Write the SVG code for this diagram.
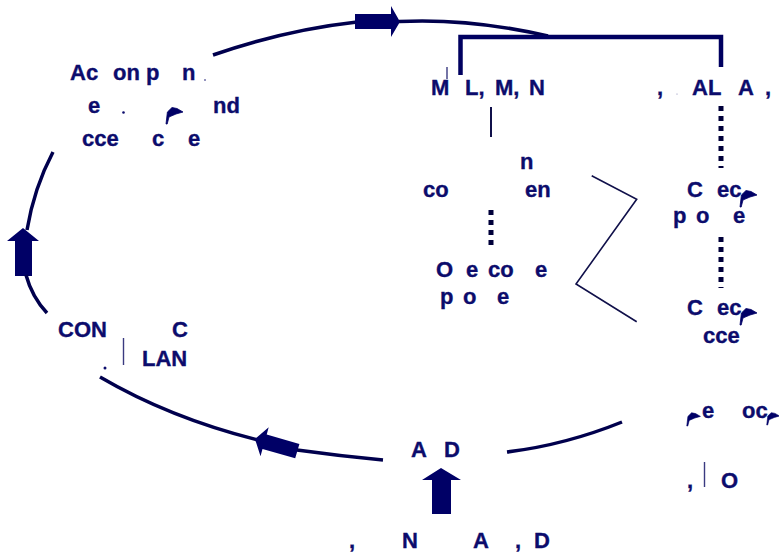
<svg xmlns="http://www.w3.org/2000/svg" width="779" height="558" viewBox="0 0 779 558">
<style>
  text { font-family: "Liberation Sans", Arial, sans-serif; font-weight: bold; font-size: 22px; fill: #0c0c6c; stroke: #0c0c6c; stroke-width: 0.35; }
  .arc { fill: none; stroke: #00004d; stroke-width: 3.5; }
  .blk { fill: #000066; }
  .dot { fill: none; stroke: #00003a; stroke-width: 5; stroke-dasharray: 5 5; }
  .thin { fill: none; stroke: #10104a; stroke-width: 1.6; }
  .tick { stroke: #3a3a80; stroke-width: 1.4; }
  .brk { fill: none; stroke: #000060; stroke-width: 4.5; }
</style>
<defs>
  <path id="flag" d="M1,20 L2.4,8 L7,3.5 L12,4.5 L18,8 L11,10 L4,13 L2.2,20 Z" fill="#000066" stroke="#000066" stroke-width="0.8" stroke-linejoin="round"/>
</defs>

<g id="connectors">
  <path class="arc" d="M213,55 Q285,30 357,22"/>
  <polygon class="blk" points="355,14 391,14 391,6 400,21.7 391,37 391,29 355,29"/>
  <path class="arc" d="M399,21.5 Q470,18 548,36"/>
  <path class="brk" d="M460.5,75 L460.5,37 L721,37 L721,67"/>
  <path class="arc" d="M53,152 Q34,188 27,230"/>
  <polygon class="blk" points="23,228 39,241 32,241 32,276 15,276 15,241 7,241"/>
  <path class="arc" d="M26,275 Q32,297 47,313"/>
  <path class="arc" d="M100,377 Q170,418 258,440"/>
  <polygon class="blk" points="255,439 268.7,427.3 266.7,434.5 299.4,443.9 295.2,458.3 262.5,449 260.5,456.2"/>
  <path class="arc" d="M297,450 Q340,456 383,460"/>
  <path class="arc" d="M507,452 Q565,445 622,422"/>
  <polygon class="blk" points="441,468 461,480 451,480 451,514 432,514 432,480 422,480"/>
  <line class="thin" x1="491" y1="107" x2="491" y2="137" style="stroke-width:2"/>
  <line class="dot" x1="721" y1="106" x2="721" y2="168"/>
  <line class="dot" x1="491" y1="210" x2="491" y2="249"/>
  <line class="dot" x1="721" y1="237" x2="721" y2="288"/>
  <polyline class="thin" points="591.7,175.7 636.7,199.3 576,284 636.7,321.7"/>
</g>

<g id="node-action">
  <text x="70" y="80">Ac</text>
  <text x="113" y="80">on p</text>
  <text x="182" y="80">n</text>
  <circle cx="205" cy="80" r="0.8" fill="#0c0c6c"/>
  <text x="88" y="113">e</text>
  <circle cx="123.5" cy="112.5" r="1.3" fill="#0c0c6c"/>
  <use href="#flag" x="165" y="104"/>
  <text x="213" y="113">nd</text>
  <text x="82" y="146">cce</text>
  <text x="152" y="146">c</text>
  <text x="188" y="146">e</text>
</g>

<g id="node-mlmn">
  <text x="431" y="95">M</text>
  <line class="tick" x1="447" y1="67" x2="447" y2="79"/>
  <text x="465" y="95">L,</text>
  <text x="495" y="95">M,</text>
  <text x="529" y="95">N</text>
</g>

<g id="node-ala">
  <text x="657" y="95">,</text>
  <circle cx="677" cy="94" r="0.6" fill="#8080b0"/>
  <text x="692" y="95">AL</text>
  <text x="738" y="95">A</text>
  <text x="765" y="95">,</text>
</g>

<g id="node-content">
  <text x="520" y="169">n</text>
  <text x="423" y="197">co</text>
  <text x="525" y="197">en</text>
</g>

<g id="node-oecoe">
  <text x="436" y="277">O</text>
  <text x="466" y="277">e</text>
  <text x="488" y="277">co</text>
  <text x="535" y="277">e</text>
  <text x="440" y="304">p</text>
  <text x="463" y="304">o</text>
  <text x="497" y="304">e</text>
</g>

<g id="node-cec1">
  <text x="687" y="197">C</text>
  <text x="717" y="197">ec</text>
  <use href="#flag" x="739" y="187"/>
  <text x="673" y="223">p</text>
  <text x="696" y="223">o</text>
  <text x="733" y="223">e</text>
</g>

<g id="node-cec2">
  <text x="687" y="315">C</text>
  <text x="717" y="315">ec</text>
  <use href="#flag" x="739" y="305"/>
  <text x="703" y="343">cce</text>
</g>

<g id="node-con">
  <text x="58" y="337">CON</text>
  <text x="172" y="337">C</text>
  <line class="tick" x1="123.5" y1="338" x2="123.5" y2="365"/>
  <text x="142" y="366">LAN</text>
  <circle cx="105" cy="368" r="1.5" fill="#0c0c6c"/>
</g>

<g id="node-ad">
  <text x="411" y="457">A</text>
  <text x="444" y="457">D</text>
</g>

<g id="node-bottom">
  <text x="349" y="548">,</text>
  <text x="402" y="548">N</text>
  <text x="473" y="548">A</text>
  <text x="515" y="548">,</text>
  <text x="534" y="548">D</text>
</g>

<g id="node-eoc">
  <use href="#flag" transform="translate(686 410) scale(0.8)"/>
  <text x="702" y="418">e</text>
  <text x="742" y="418">oc</text>
  <use href="#flag" transform="translate(766 410) scale(0.75)"/>
  <text x="687" y="488">,</text>
  <line class="tick" x1="704.5" y1="462" x2="704.5" y2="487"/>
  <text x="721" y="488">O</text>
</g>
</svg>
